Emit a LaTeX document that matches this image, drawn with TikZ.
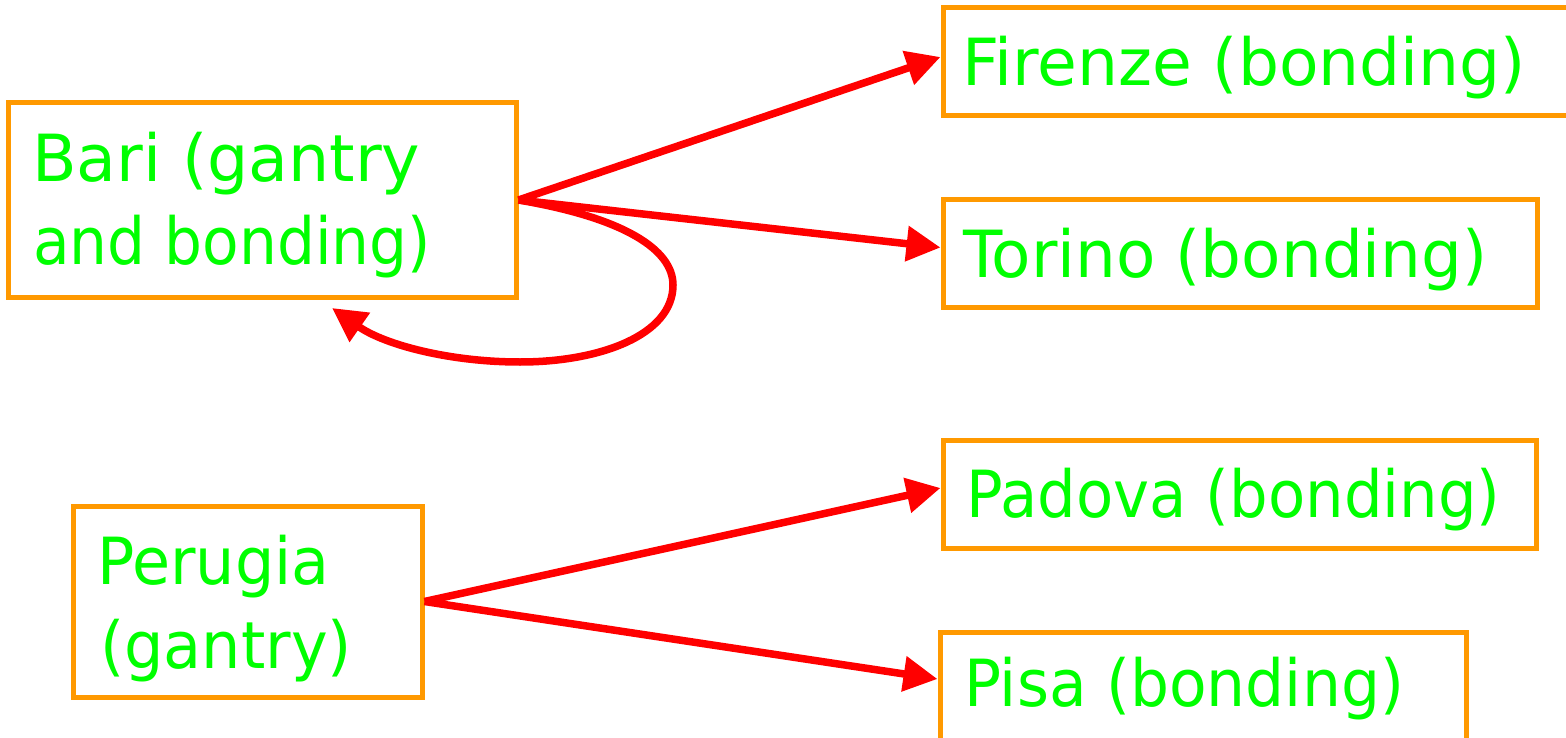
\documentclass[tikz,border=0pt]{standalone}
\usepackage{fontspec}
\setmainfont{DejaVu Sans}
\usetikzlibrary{arrows.meta}
\definecolor{boxorange}{HTML}{FF9900}
\definecolor{txtgreen}{HTML}{00FF00}
\definecolor{arrred}{HTML}{FF0000}
\begin{document}
\begin{tikzpicture}[x=1pt,y=-1pt,
  cbox/.style={draw=boxorange,line width=5pt,minimum width=#1,inner sep=0pt},
  lbl/.style={anchor=base west,inner sep=0pt,text=txtgreen,font=\fontsize{65}{80}\selectfont},
  conn/.style={draw=arrred,line width=7.5pt,-{Triangle[length=34pt,width=34pt]}}]
\fill[white] (0,0) rectangle (1566,738);
\useasboundingbox (0,0) rectangle (1566,738);
% boxes
\node[cbox=508pt,minimum height=194pt] (bari) at (262,200) {};
\node[cbox=637pt,minimum height=108pt] (firenze) at (1261.5,62) {};
\node[cbox=594pt,minimum height=107pt] (torino) at (1240,253.5) {};
\node[cbox=593pt,minimum height=108pt] (padova) at (1239.5,494) {};
\node[cbox=349pt,minimum height=191pt] (perugia) at (247.5,601.5) {};
\node[cbox=526pt,minimum height=128pt] (pisa) at (1203,696) {};
% texts
\node[lbl] (bari1) at (32,182) {Bari (gantry};
\node[lbl] (bari2) at (33,264) {\scalebox{0.92}[1]{and bonding)}};
\node[lbl] (firenzet) at (962,86) {\scalebox{0.995}[1]{Firenze (bonding)}};
\node[lbl] (torinot) at (963,277) {\scalebox{0.99}[1]{Torino (bonding)}};
\node[lbl] (padovat) at (966,517) {\scalebox{0.936}[1]{Padova (bonding)}};
\node[lbl] (perugia1) at (97,584) {\scalebox{0.953}[1]{Perugia}};
\node[lbl] (perugia2) at (100,668) {\scalebox{0.955}[1]{(gantry)}};
\node[lbl] (pisat) at (964,706) {\scalebox{0.946}[1]{Pisa (bonding)}};
% connectors
\coordinate (looptip) at (332,308);
\draw[conn] (bari.east) -- ([yshift=5pt]firenze.west);
\draw[conn] (bari.east) -- ([yshift=6pt]torino.west);
\draw[conn] (bari.east) .. controls (625,218) and (673,250) .. (673,285)
  .. controls (673,335) and (600,362) .. (520,362)
  .. controls (450,362) and (385,345) .. (looptip);
\draw[conn] (perugia.east) -- ([yshift=6pt]padova.west);
\draw[conn] (perugia.east) -- ([yshift=17pt]pisa.west);
\end{tikzpicture}
\end{document}
